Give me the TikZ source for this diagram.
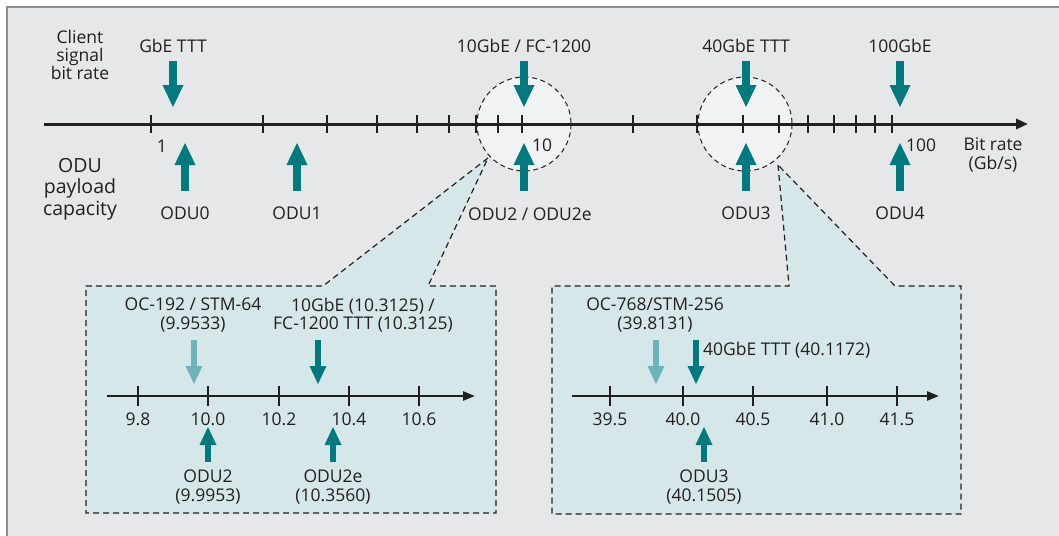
\documentclass[tikz,border=0pt]{standalone}
\usepackage{fontspec}
\setmainfont{Open Sans}
\usepackage{tikz}
\usetikzlibrary{arrows.meta}
\definecolor{odnTeal}{HTML}{00797F}
\definecolor{odnTealLight}{HTML}{6DB3B9}
\definecolor{odnBack}{HTML}{E6E7E8}
\definecolor{odnLens}{HTML}{F1F2F3}
\definecolor{odnZoom}{HTML}{D6E7E9}
\definecolor{odnText}{HTML}{231F20}
\definecolor{odnFrame}{HTML}{8D8D8D}

\begin{document}
\begin{tikzpicture}[
        x=1pt, y=-1pt,
        lbl/.style={inner sep=0pt, align=center, text=odnText, font=\fontsize{17.5}{18.3}\selectfont},
        sidelbl/.style={lbl, font=\fontsize{19.5}{21.5}\selectfont},
        scaleline/.style={line width=3pt, draw=odnText, -{Triangle[length=12pt, width=10pt]}},
        zoomline/.style={line width=2.5pt, draw=odnText, -{Triangle[length=12pt, width=9pt]}},
        tick/.style={line width=1.2pt, draw=odnText},
        rate/.style={line width=7.3pt, draw=odnTeal, -{Triangle[length=22pt, width=21pt, line width=0pt]}},
        zoomrate/.style={line width=6.5pt, draw=odnTeal, -{Triangle[length=18pt, width=17pt, line width=0pt]}},
        softrate/.style={zoomrate, draw=odnTealLight},
        lens/.style={fill=odnLens, draw=odnText, line width=1pt, dash pattern=on 5pt off 3.5pt},
        zoombox/.style={fill=odnZoom, draw=odnText, line width=1.2pt, dash pattern=on 6pt off 4pt}
    ]
        \useasboundingbox (0,0) rectangle (1059,535);

        % Background panel
        \fill[odnBack] (7,7) rectangle (1070,545);
        \draw[odnFrame, line width=2pt] (7,545) -- (7,7) -- (1070,7);

        % Lenses on the rate scale
        \draw[lens] (524,124) circle [radius=47];
        \draw[lens] (745,124) circle [radius=47];

        % Zoom boxes with their wedges
        \coordinate (lensA) at (488,158);
        \coordinate (lensB) at (778,165);
        \draw[zoombox] (lensA) -- (323,286) -- (86,286) -- (86,513) -- (496,513) -- (496,286) -- (428,286) -- cycle;
        \draw[zoombox] (lensB) -- (789,286) -- (552,286) -- (552,514) -- (961,514) -- (961,286) -- (895,286) -- cycle;

        % Main bit-rate scale (log)
        \coordinate (scaleL) at (44,124);
        \coordinate (scaleR) at (1028,124);
        \draw[scaleline] (scaleL) -- (scaleR);
        \foreach \x in {151,263,327,377,417,449,476,498,522,633,697,743,779,808,834,856,875,892}
            \draw[tick] (\x,115) -- (\x,133);
        \node[lbl] (one) at (162,146) {1};
        \node[lbl] (ten) at (542,145) {10};
        \node[lbl] (hundred) at (921,145) {100};
        \node[lbl] (unit) at (993,155) {Bit rate\\(Gb/s)};

        % Row titles
        \node[lbl] (client) at (80,55) {Client\\signal\\bit rate};
        \node[sidelbl] (payload) at (80,189) {ODU\\payload\\capacity};

        % Client signals (from above)
        \node[lbl] (gbe) at (173,45.5) {GbE TTT};
        \node[lbl] (tengbe) at (524,46) {10GbE / FC-1200};
        \node[lbl] (fortygbe) at (746,45.5) {40GbE TTT};
        \node[lbl] (hundredgbe) at (900,45.5) {100GbE};
        \foreach \x/\name in {173/gbe, 524/tengbe, 746/fortygbe, 900/hundredgbe}{
            \coordinate (\name-top) at (\x,61);
            \coordinate (\name-tip) at (\x,107);
            \draw[rate] (\name-top) -- (\name-tip);
        }

        % ODU containers (from below)
        \node[lbl] (oduzero) at (185,213.5) {ODU0};
        \node[lbl] (oduone) at (297,213.5) {ODU1};
        \node[lbl] (odutwo) at (530,214) {ODU2 / ODU2e};
        \node[lbl] (oduthree) at (746,213.5) {ODU3};
        \node[lbl] (odufour) at (900,213.5) {ODU4};
        \foreach \x/\name in {185/oduzero, 297/oduone, 524/odutwo, 746/oduthree, 900/odufour}{
            \coordinate (\name-base) at (\x,191);
            \coordinate (\name-tip) at (\x,143);
            \draw[rate] (\name-base) -- (\name-tip);
        }

        % Zoom around 10 Gb/s
        \coordinate (tenL) at (107,396);
        \coordinate (tenR) at (475,396);
        \draw[zoomline] (tenL) -- (tenR);
        \foreach \x/\v in {138/9.8, 208/10.0, 279/10.2, 349/10.4, 419/10.6}{
            \draw[tick] (\x,386) -- (\x,406);
            \node[lbl] at (\x,419.5) {\v};
        }
        \node[lbl] (ocone) at (193,315) {OC-192 / STM-64\\(9.9533)};
        \node[lbl] (tengbeZ) at (363,315) {10GbE (10.3125) /\\FC-1200 TTT (10.3125)};
        \node[lbl] (odutwoZ) at (208,487) {ODU2\\(9.9953)};
        \node[lbl] (odutweZ) at (333,487) {ODU2e\\(10.3560)};
        \coordinate (ocone-top) at (194,340);
        \coordinate (ocone-tip) at (194,384);
        \coordinate (tengbeZ-top) at (318,340);
        \coordinate (tengbeZ-tip) at (318,384);
        \coordinate (odutwoZ-base) at (208,462);
        \coordinate (odutwoZ-tip) at (208,427);
        \coordinate (odutweZ-base) at (333,462);
        \coordinate (odutweZ-tip) at (333,427);
        \draw[softrate] (ocone-top) -- (ocone-tip);
        \draw[zoomrate] (tengbeZ-top) -- (tengbeZ-tip);
        \draw[zoomrate] (odutwoZ-base) -- (odutwoZ-tip);
        \draw[zoomrate] (odutweZ-base) -- (odutweZ-tip);

        % Zoom around 40 Gb/s
        \coordinate (fortyL) at (572,396);
        \coordinate (fortyR) at (939,396);
        \draw[zoomline] (fortyL) -- (fortyR);
        \foreach \x/\v in {610/39.5, 683/40.0, 753/40.5, 827/41.0, 897/41.5}{
            \draw[tick] (\x,386) -- (\x,406);
            \node[lbl] at (\x,419.5) {\v};
        }
        \node[lbl] (octwo) at (655,315) {OC-768/STM-256\\(39.8131)};
        \node[lbl, anchor=west] (fortygbeZ) at (703,350) {40GbE TTT (40.1172)};
        \node[lbl] (oduthreeZ) at (704,487) {ODU3\\(40.1505)};
        \coordinate (octwo-top) at (656,340);
        \coordinate (octwo-tip) at (656,384);
        \coordinate (fortygbeZ-top) at (696,340);
        \coordinate (fortygbeZ-tip) at (696,384);
        \coordinate (oduthreeZ-base) at (704,462);
        \coordinate (oduthreeZ-tip) at (704,427);
        \draw[softrate] (octwo-top) -- (octwo-tip);
        \draw[zoomrate] (fortygbeZ-top) -- (fortygbeZ-tip);
        \draw[zoomrate] (oduthreeZ-base) -- (oduthreeZ-tip);
\end{tikzpicture}
\end{document}
